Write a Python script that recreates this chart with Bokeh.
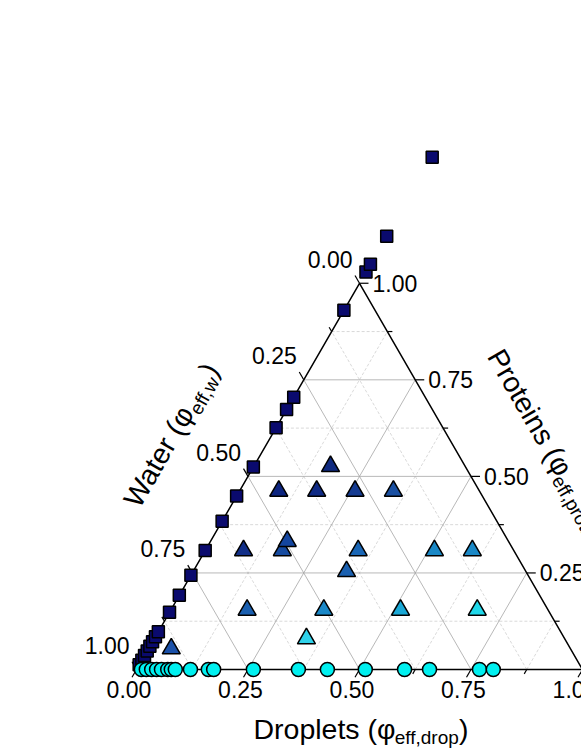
import math
from bokeh.plotting import figure
from bokeh.models import Range1d, Label, ColumnDataSource
from bokeh.embed import file_html
from bokeh.resources import INLINE
from bokeh.core.properties import value

# ---------------- data (ternary fractions: droplets, proteins; water = 1 - d - p) ----------------
square_droplets = [0.0] * 23
square_proteins = [0.012, 0.024, 0.036, 0.048, 0.060, 0.072, 0.085, 0.098, 0.148, 0.192,
                   0.244, 0.308, 0.384, 0.449, 0.524, 0.626, 0.673, 0.705, 0.930, 1.029,
                   1.049, 1.122, 1.326]

circle_droplets = [0.011, 0.022, 0.034, 0.045, 0.056, 0.070, 0.078, 0.087, 0.121, 0.161,
                   0.173, 0.262, 0.363, 0.428, 0.513, 0.601, 0.657, 0.769, 0.800]
circle_proteins = [0.0] * 19

tri_droplets = [0.051, 0.341, 0.171, 0.343, 0.515, 0.687, 0.344, 0.086, 0.173, 0.343,
                0.514, 0.599, 0.172, 0.088, 0.173, 0.259, 0.345, 0.172]
tri_proteins = [0.054, 0.080, 0.154, 0.154, 0.154, 0.154, 0.254, 0.308, 0.308, 0.308,
                0.308, 0.308, 0.332, 0.462, 0.462, 0.462, 0.462, 0.526]
tri_colors = ["#1a50a8", "#30d2ea", "#1a5fb0", "#1a88c8", "#1aa8d6", "#20d8ea", "#1a60b0",
              "#122f88", "#174ba0", "#1a66b5", "#1a88c6", "#1a88c6", "#1446a0", "#0d2580",
              "#0f2a85", "#163c92", "#1a50a2", "#0f2a80"]

major_ticks = [0.0, 0.25, 0.5, 0.75, 1.0]
major_labels = ["0.00", "0.25", "0.50", "0.75", "1.00"]
minor_ticks = [0.125, 0.375, 0.625, 0.875]
grid_major = [0.25, 0.5, 0.75]

# ---------------- geometry ----------------
W, H = 581, 752
S = 446.0              # px per ternary unit (side length)
OX, OY = 136.0, 669.0  # canvas px of the bottom-left vertex
R3 = math.sqrt(3) / 2
BFIX = 0.35            # baseline correction (fraction of font size)


def tern(d, pr):
    return d + 0.5 * pr, R3 * pr


def page2data(X, Y):
    return (X - OX) / S, (OY - Y) / S


p = figure(width=W, height=H, output_backend="svg", toolbar_location=None,
           x_range=Range1d(-OX / S, (W - OX) / S), y_range=Range1d(-(H - OY) / S, OY / S),
           x_axis_location=None, y_axis_location=None, min_border=0)
p.grid.visible = False
p.outline_line_color = None
p.background_fill_color = "white"
p.border_fill_color = "white"

FONT = "Liberation Sans"

# ---------------- grid ----------------
def grid_lines(vals):
    xs, ys = [], []
    for v in vals:
        a, b = tern(0, v), tern(1 - v, v)          # proteins = v
        xs.append([a[0], b[0]]); ys.append([a[1], b[1]])
        a, b = tern(v, 0), tern(v, 1 - v)          # droplets = v
        xs.append([a[0], b[0]]); ys.append([a[1], b[1]])
        a, b = tern(1 - v, 0), tern(0, 1 - v)      # water = v
        xs.append([a[0], b[0]]); ys.append([a[1], b[1]])
    return xs, ys

mx, my = grid_lines(minor_ticks)
p.multi_line(mx, my, line_color="#cfcfcf", line_width=0.8, line_dash="3 2")
gx, gy = grid_lines(grid_major)
p.multi_line(gx, gy, line_color="#a6a6a6", line_width=0.8)

# ---------------- frame ----------------
vx = [tern(0, 0)[0], tern(1, 0)[0], tern(0, 1)[0], tern(0, 0)[0]]
vy = [tern(0, 0)[1], tern(1, 0)[1], tern(0, 1)[1], tern(0, 0)[1]]
p.line(vx, vy, line_color="black", line_width=1.5)

# ---------------- ticks ----------------
x0s, y0s, x1s, y1s = [], [], [], []
for vals, L in ((major_ticks, 9.0), (minor_ticks, 5.0)):
    l = L / S
    for v in vals:
        bx, by = tern(v, 0)                        # droplets axis: down-left
        x0s.append(bx); y0s.append(by); x1s.append(bx - 0.5 * l); y1s.append(by - R3 * l)
        bx, by = tern(0, 1 - v)                    # water axis: up-left
        x0s.append(bx); y0s.append(by); x1s.append(bx - 0.5 * l); y1s.append(by + R3 * l)
        bx, by = tern(1 - v, v)                    # proteins axis: right
        x0s.append(bx); y0s.append(by); x1s.append(bx + l); y1s.append(by)
p.segment(x0s, y0s, x1s, y1s, line_color="black", line_width=1.2)

# ---------------- tick labels ----------------
TF = 23
TFS = f"{TF}px"
TUP = BFIX * TF
bx = [tern(v, 0)[0] - 7.5 / S for v in major_ticks]
by = [(-28.0 + TUP) / S for v in major_ticks]
p.text(bx, by, text=major_labels, text_font=value(FONT), text_font_size=TFS,
       text_align="center", text_baseline="alphabetic", text_color="black")

lx = [tern(0, 1 - v)[0] - 7.0 / S for v in major_ticks]
ly = [tern(0, 1 - v)[1] + (16.0 + TUP) / S for v in major_ticks]
p.text(lx, ly, text=major_labels, text_font=value(FONT), text_font_size=TFS,
       text_align="right", text_baseline="alphabetic", text_color="black")

rx = [tern(1 - v, v)[0] + 13.0 / S for v in major_ticks]
ry = [tern(1 - v, v)[1] + (-8.0 + TUP) / S for v in major_ticks]
p.text(rx, ry, text=major_labels, text_font=value(FONT), text_font_size=TFS,
       text_align="left", text_baseline="alphabetic", text_color="black")

# ---------------- axis titles ----------------
AW = {" ": .278, "(": .333, ")": .333, ",": .278, ".": .278, "D": .722, "P": .667, "W": .944,
      "a": .556, "d": .556, "e": .556, "f": .278, "i": .222, "l": .222, "n": .556, "o": .556,
      "p": .556, "r": .333, "s": .5, "t": .278, "w": .722, "φ": .62}


def tw(s, size):
    return sum(AW.get(c, .556) for c in s) * size


def title(X0, Y0, ang_deg, pieces):
    th = math.radians(ang_deg)
    ux, uy = math.cos(th), -math.sin(th)
    dx, dy = math.sin(th), math.cos(th)
    s = 0.0
    for txt, size, drop in pieces:
        d = drop - BFIX * size
        X = X0 + s * ux + d * dx
        Y = Y0 + s * uy + d * dy
        x, y = page2data(X, Y)
        p.add_layout(Label(x=x, y=y, text=txt, angle=th, text_font=FONT,
                           text_font_size=f"{size}px", text_align="left",
                           text_baseline="alphabetic", text_color="black"))
        s += tw(txt, size)

title(253, 738, 0, [("Droplets (φ", 28.5, 0), ("eff,drop", 19, 6), (")", 28.5, 0)])
title(139, 509, 60, [("Water (φ", 28.5, 0), ("eff,w", 19, 6), (")", 28.5, 0)])
title(486, 356, -60, [("Proteins (φ", 28.5, 0), ("eff,prot", 19, 6), (")", 28.5, 0)])

# ---------------- data markers ----------------
sq = [tern(d, pr) for d, pr in zip(square_droplets, square_proteins)]
p.scatter([a for a, b in sq], [b for a, b in sq], marker="square", size=12,
          fill_color="#0a0a6e", line_color="black", line_width=1.5)

tr = [tern(d, pr) for d, pr in zip(tri_droplets, tri_proteins)]
src = ColumnDataSource(dict(x=[a for a, b in tr], y=[b for a, b in tr], c=tri_colors))
p.scatter("x", "y", source=src, marker="triangle", size=18,
          fill_color="c", line_color="black", line_width=1.5)

ci = [tern(d, pr) for d, pr in zip(circle_droplets, circle_proteins)]
p.scatter([a for a, b in ci], [b for a, b in ci], marker="circle", size=14,
          fill_color="#00f0f0", line_color="black", line_width=1.5)

open("out.html", "w").write(file_html(p, INLINE))
